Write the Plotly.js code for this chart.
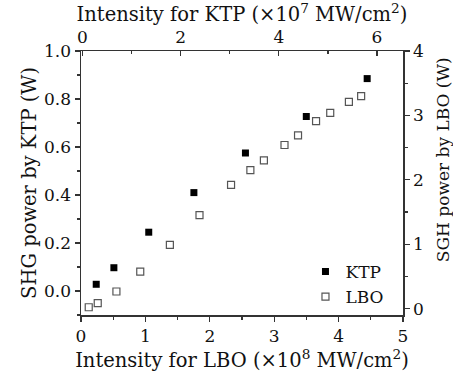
<!DOCTYPE html>
<html>
<head>
<meta charset="utf-8">
<script src="https://cdn.plot.ly/plotly-3.0.1.min.js"></script>
<style>html,body{margin:0;padding:0;background:#fff}#chart{width:453px;height:374px}</style>
</head>
<body>
<div id="chart"></div>
<script>
// KTP: intensity (x10^7 MW/cm^2, top axis) vs SHG power (W, left axis)
const ktpIntensity = [0.28, 0.64, 1.35, 2.27, 3.32, 4.56, 5.80];
const ktpPower = [0.028, 0.097, 0.245, 0.41, 0.575, 0.727, 0.885];
// LBO: intensity (x10^8 MW/cm^2, bottom axis) vs SHG power (W, right axis)
const lboIntensity = [0.12, 0.26, 0.55, 0.92, 1.38, 1.84, 2.33, 2.63, 2.84, 3.16, 3.37, 3.65, 3.87, 4.16, 4.35];
const lboPower = [0.02, 0.085, 0.265, 0.575, 0.99, 1.45, 1.92, 2.15, 2.30, 2.54, 2.69, 2.91, 3.04, 3.21, 3.30];

const FAM = 'DejaVu Serif, serif';
const tickFont = {family: FAM, size: 17, color: '#111'};
const titleFont = {family: FAM, size: 19.5, color: '#111'};

const traces = [
  {x: ktpIntensity, y: ktpPower, xaxis: 'x2', yaxis: 'y2', type: 'scatter', mode: 'markers', name: 'KTP',
   marker: {symbol: 'square', size: 7, color: '#000'}},
  {x: lboIntensity, y: lboPower, xaxis: 'x', yaxis: 'y', type: 'scatter', mode: 'markers', name: 'LBO',
   marker: {symbol: 'square-open', size: 7, color: '#555', line: {width: 1.2}}}
];

const axisBase = {showline: true, linecolor: '#333', linewidth: 1.5, showgrid: false, zeroline: false,
  ticks: 'outside', ticklen: 5, tickwidth: 1.2, tickcolor: '#333', tickfont: tickFont};

const layout = {
  width: 453, height: 374,
  margin: {l: 81, r: 50, t: 51, b: 59},
  paper_bgcolor: '#fff', plot_bgcolor: '#fff',
  font: tickFont,
  showlegend: true,
  legend: {x: 0.958, y: 0.0, xanchor: 'right', yanchor: 'bottom', bgcolor: 'rgba(0,0,0,0)',
    font: {family: FAM, size: 17, color: '#111'}, tracegroupgap: 0},
  // bottom axis: LBO intensity
  xaxis: Object.assign({}, axisBase, {range: [0, 5], dtick: 1, side: 'bottom', anchor: 'y',
    minor: {dtick: 0.5, ticklen: 3, ticks: 'outside', tickcolor: '#333'},
    title: {text: 'Intensity for LBO (×10<sup>8</sup> MW/cm<sup>2</sup>)', font: titleFont, standoff: 0}}),
  // top axis: KTP intensity
  xaxis2: Object.assign({}, axisBase, {range: [-0.03, 6.53], dtick: 2, overlaying: 'x', side: 'top', anchor: 'y2',
    ticks: 'inside', minor: {dtick: 1, ticklen: 3, ticks: 'inside', tickcolor: '#333'},
    title: {text: 'Intensity for KTP (×10<sup>7</sup> MW/cm<sup>2</sup>)', font: titleFont, standoff: 0}}),
  // right axis: LBO power (title drawn as annotation below)
  yaxis: Object.assign({}, axisBase, {range: [-0.1, 4], dtick: 1, side: 'right', anchor: 'x',
    minor: {dtick: 0.5, ticklen: 3, ticks: 'outside', tickcolor: '#333'}}),
  // left axis: KTP power
  yaxis2: Object.assign({}, axisBase, {range: [-0.1, 1.0], dtick: 0.2, tickformat: '.1f', overlaying: 'y', side: 'left', anchor: 'x2',
    minor: {dtick: 0.1, ticklen: 3, ticks: 'outside', tickcolor: '#333'},
    title: {text: 'SHG power by KTP (W)', font: titleFont, standoff: 2}}),
  annotations: [
    {text: 'SGH power by LBO (W)', textangle: -90, xref: 'paper', yref: 'paper', x: 1.124, y: 0.59,
     xanchor: 'center', yanchor: 'middle', showarrow: false, font: {family: FAM, size: 17, color: '#111'}}
  ]
};

Plotly.newPlot('chart', traces, layout, {displayModeBar: false, staticPlot: true});
</script>
</body>
</html>
